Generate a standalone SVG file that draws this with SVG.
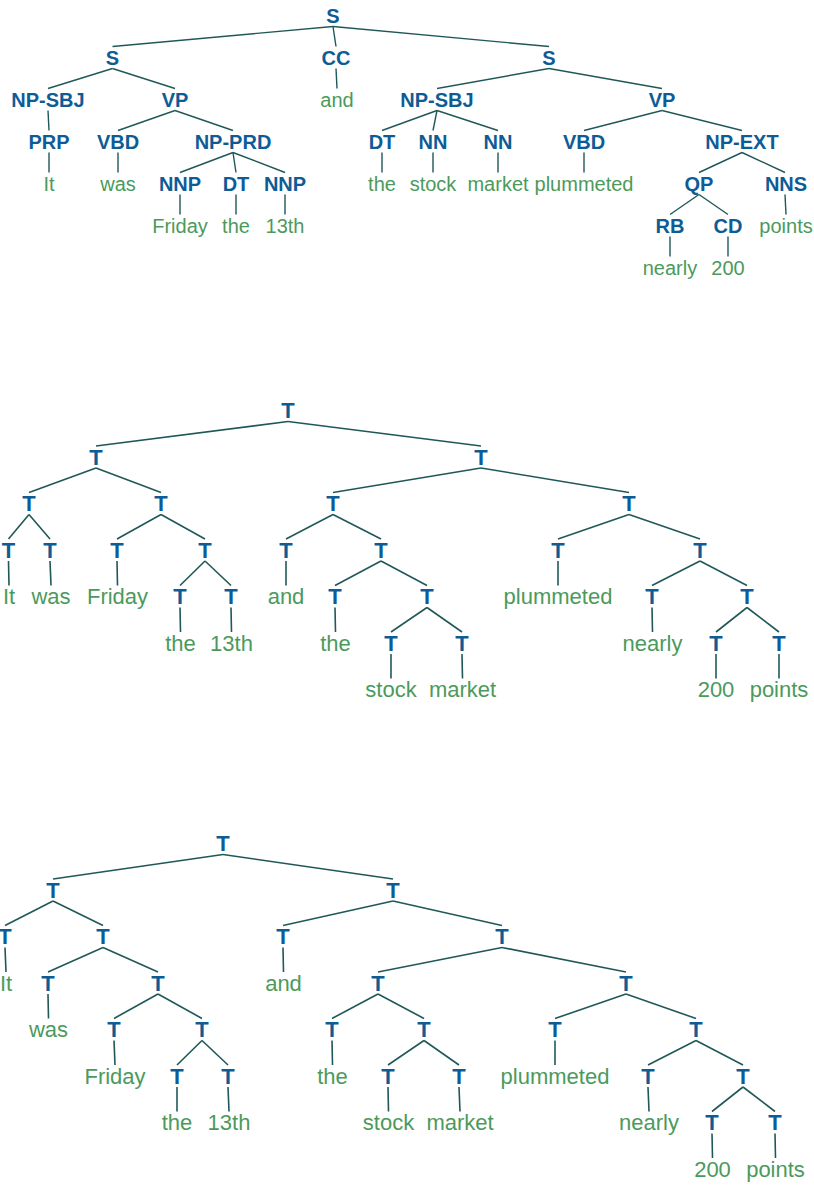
<svg xmlns="http://www.w3.org/2000/svg" width="814" height="1186" viewBox="0 0 814 1186">
<style>
.l{font-family:"Liberation Sans",Arial,sans-serif;font-size:20px;font-weight:bold;fill:#0e5c96;text-anchor:middle}
.w{font-family:"Liberation Sans",Arial,sans-serif;font-size:20px;fill:#4b9a5c;text-anchor:middle}
.big .l,.big .w{font-size:22px}
.e line{stroke:#205858;stroke-width:1.4;fill:none}
.e.big2 line{stroke-width:1.6}
</style>
<rect width="814" height="1186" fill="#ffffff"/>
<g id="tree1-edges" class="e">
<line x1="333" y1="26.5" x2="112.5" y2="46.5"/><line x1="333" y1="26.5" x2="336" y2="46.5"/><line x1="333" y1="26.5" x2="549" y2="46.5"/>
<line x1="112.5" y1="68.5" x2="48" y2="88.5"/><line x1="112.5" y1="68.5" x2="175" y2="88.5"/>
<line x1="336" y1="68.5" x2="337" y2="88.5"/>
<line x1="549" y1="68.5" x2="437" y2="88.5"/><line x1="549" y1="68.5" x2="662" y2="88.5"/>
<line x1="48" y1="110.5" x2="49" y2="130.5"/>
<line x1="175" y1="110.5" x2="118" y2="130.5"/><line x1="175" y1="110.5" x2="233" y2="130.5"/>
<line x1="437" y1="110.5" x2="382" y2="130.5"/><line x1="437" y1="110.5" x2="433" y2="130.5"/><line x1="437" y1="110.5" x2="498" y2="130.5"/>
<line x1="662" y1="110.5" x2="584" y2="130.5"/><line x1="662" y1="110.5" x2="742" y2="130.5"/>
<line x1="49" y1="152.5" x2="49" y2="172.5"/>
<line x1="118" y1="152.5" x2="118" y2="172.5"/>
<line x1="233" y1="152.5" x2="180" y2="172.5"/><line x1="233" y1="152.5" x2="236" y2="172.5"/><line x1="233" y1="152.5" x2="285" y2="172.5"/>
<line x1="382" y1="152.5" x2="382" y2="172.5"/>
<line x1="433" y1="152.5" x2="433" y2="172.5"/>
<line x1="498" y1="152.5" x2="498" y2="172.5"/>
<line x1="584" y1="152.5" x2="584" y2="172.5"/>
<line x1="742" y1="152.5" x2="699" y2="172.5"/><line x1="742" y1="152.5" x2="785" y2="172.5"/>
<line x1="180" y1="194.5" x2="180" y2="214.5"/>
<line x1="236" y1="194.5" x2="236" y2="214.5"/>
<line x1="285" y1="194.5" x2="285" y2="214.5"/>
<line x1="699" y1="194.5" x2="670" y2="214.5"/><line x1="699" y1="194.5" x2="728" y2="214.5"/>
<line x1="785" y1="194.5" x2="786" y2="214.5"/>
<line x1="670" y1="236.5" x2="670" y2="256.5"/>
<line x1="728" y1="236.5" x2="728" y2="256.5"/>
</g>
<g id="tree2-edges" class="e big2">
<line x1="288" y1="421.5" x2="96" y2="446"/><line x1="288" y1="421.5" x2="481" y2="446"/>
<line x1="96" y1="468" x2="29" y2="492.5"/><line x1="96" y1="468" x2="161" y2="492.5"/>
<line x1="481" y1="468" x2="333" y2="492.5"/><line x1="481" y1="468" x2="629" y2="492.5"/>
<line x1="29" y1="514.5" x2="8.5" y2="539"/><line x1="29" y1="514.5" x2="50" y2="539"/>
<line x1="161" y1="514.5" x2="117" y2="539"/><line x1="161" y1="514.5" x2="205" y2="539"/>
<line x1="333" y1="514.5" x2="286" y2="539"/><line x1="333" y1="514.5" x2="381" y2="539"/>
<line x1="629" y1="514.5" x2="558" y2="539"/><line x1="629" y1="514.5" x2="700" y2="539"/>
<line x1="8.5" y1="561" x2="9" y2="585.5"/>
<line x1="50" y1="561" x2="51" y2="585.5"/>
<line x1="117" y1="561" x2="117.5" y2="585.5"/>
<line x1="205" y1="561" x2="180" y2="585.5"/><line x1="205" y1="561" x2="231" y2="585.5"/>
<line x1="286" y1="561" x2="286" y2="585.5"/>
<line x1="381" y1="561" x2="335" y2="585.5"/><line x1="381" y1="561" x2="427" y2="585.5"/>
<line x1="558" y1="561" x2="558" y2="585.5"/>
<line x1="700" y1="561" x2="652" y2="585.5"/><line x1="700" y1="561" x2="747" y2="585.5"/>
<line x1="180" y1="607.5" x2="180.5" y2="632"/>
<line x1="231" y1="607.5" x2="231.5" y2="632"/>
<line x1="335" y1="607.5" x2="335.5" y2="632"/>
<line x1="427" y1="607.5" x2="391" y2="632"/><line x1="427" y1="607.5" x2="462" y2="632"/>
<line x1="652" y1="607.5" x2="652.5" y2="632"/>
<line x1="747" y1="607.5" x2="716" y2="632"/><line x1="747" y1="607.5" x2="779" y2="632"/>
<line x1="391" y1="654" x2="391" y2="678.5"/>
<line x1="462" y1="654" x2="462.5" y2="678.5"/>
<line x1="716" y1="654" x2="716" y2="678.5"/>
<line x1="779" y1="654" x2="779" y2="678.5"/>
</g>
<g id="tree3-edges" class="e big2">
<line x1="223" y1="854.5" x2="53" y2="879"/><line x1="223" y1="854.5" x2="393" y2="879"/>
<line x1="53" y1="901" x2="5" y2="925.5"/><line x1="53" y1="901" x2="103" y2="925.5"/>
<line x1="393" y1="901" x2="283" y2="925.5"/><line x1="393" y1="901" x2="502" y2="925.5"/>
<line x1="5" y1="947.5" x2="6" y2="972"/>
<line x1="103" y1="947.5" x2="48" y2="972"/><line x1="103" y1="947.5" x2="158" y2="972"/>
<line x1="283" y1="947.5" x2="283.5" y2="972"/>
<line x1="502" y1="947.5" x2="378" y2="972"/><line x1="502" y1="947.5" x2="626" y2="972"/>
<line x1="48" y1="994" x2="48.5" y2="1018.5"/>
<line x1="158" y1="994" x2="114" y2="1018.5"/><line x1="158" y1="994" x2="202" y2="1018.5"/>
<line x1="378" y1="994" x2="332" y2="1018.5"/><line x1="378" y1="994" x2="424" y2="1018.5"/>
<line x1="626" y1="994" x2="555" y2="1018.5"/><line x1="626" y1="994" x2="696" y2="1018.5"/>
<line x1="114" y1="1040.5" x2="115" y2="1065"/>
<line x1="202" y1="1040.5" x2="177" y2="1065"/><line x1="202" y1="1040.5" x2="228" y2="1065"/>
<line x1="332" y1="1040.5" x2="332.5" y2="1065"/>
<line x1="424" y1="1040.5" x2="388" y2="1065"/><line x1="424" y1="1040.5" x2="459" y2="1065"/>
<line x1="555" y1="1040.5" x2="555" y2="1065"/>
<line x1="696" y1="1040.5" x2="648" y2="1065"/><line x1="696" y1="1040.5" x2="743" y2="1065"/>
<line x1="177" y1="1087" x2="177" y2="1111.5"/>
<line x1="228" y1="1087" x2="229" y2="1111.5"/>
<line x1="388" y1="1087" x2="388.5" y2="1111.5"/>
<line x1="459" y1="1087" x2="460" y2="1111.5"/>
<line x1="648" y1="1087" x2="649" y2="1111.5"/>
<line x1="743" y1="1087" x2="712" y2="1111.5"/><line x1="743" y1="1087" x2="775" y2="1111.5"/>
<line x1="712" y1="1133.5" x2="712.5" y2="1158"/>
<line x1="775" y1="1133.5" x2="775.5" y2="1158"/>
</g>
<g id="tree1-nodes">
<g id="a-S"><text class="l" x="333" y="23">S</text></g>
<g id="a-S1"><text class="l" x="112.5" y="65">S</text></g>
<g id="a-CC"><text class="l" x="336" y="65">CC</text></g>
<g id="a-S2"><text class="l" x="549" y="65">S</text></g>
<g id="a-NPSBJ1"><text class="l" x="48" y="107">NP-SBJ</text></g>
<g id="a-VP1"><text class="l" x="175" y="107">VP</text></g>
<g id="a-and"><text class="w" x="337" y="107">and</text></g>
<g id="a-NPSBJ2"><text class="l" x="437" y="107">NP-SBJ</text></g>
<g id="a-VP2"><text class="l" x="662" y="107">VP</text></g>
<g id="a-PRP"><text class="l" x="49" y="149">PRP</text></g>
<g id="a-VBD1"><text class="l" x="118" y="149">VBD</text></g>
<g id="a-NPPRD"><text class="l" x="233" y="149">NP-PRD</text></g>
<g id="a-DT2"><text class="l" x="382" y="149">DT</text></g>
<g id="a-NN1"><text class="l" x="433" y="149">NN</text></g>
<g id="a-NN2"><text class="l" x="498" y="149">NN</text></g>
<g id="a-VBD2"><text class="l" x="584" y="149">VBD</text></g>
<g id="a-NPEXT"><text class="l" x="742" y="149">NP-EXT</text></g>
<g id="a-It"><text class="w" x="49" y="191">It</text></g>
<g id="a-was"><text class="w" x="118" y="191">was</text></g>
<g id="a-NNP1"><text class="l" x="180" y="191">NNP</text></g>
<g id="a-DT1"><text class="l" x="236" y="191">DT</text></g>
<g id="a-NNP2"><text class="l" x="285" y="191">NNP</text></g>
<g id="a-the2"><text class="w" x="382" y="191">the</text></g>
<g id="a-stock"><text class="w" x="433" y="191">stock</text></g>
<g id="a-market"><text class="w" x="498" y="191">market</text></g>
<g id="a-plummeted"><text class="w" x="584" y="191">plummeted</text></g>
<g id="a-QP"><text class="l" x="699" y="191">QP</text></g>
<g id="a-NNS"><text class="l" x="786" y="191">NNS</text></g>
<g id="a-Friday"><text class="w" x="180" y="233">Friday</text></g>
<g id="a-the1"><text class="w" x="236" y="233">the</text></g>
<g id="a-13th"><text class="w" x="285" y="233">13th</text></g>
<g id="a-RB"><text class="l" x="670" y="233">RB</text></g>
<g id="a-CD"><text class="l" x="728" y="233">CD</text></g>
<g id="a-points"><text class="w" x="786" y="233">points</text></g>
<g id="a-nearly"><text class="w" x="670" y="275">nearly</text></g>
<g id="a-200"><text class="w" x="728" y="275">200</text></g>
</g>
<g id="tree2-nodes" class="big">
<g id="b-r"><text class="l" x="288" y="418">T</text></g>
<g id="b-A"><text class="l" x="96" y="464.5">T</text></g>
<g id="b-B"><text class="l" x="481" y="464.5">T</text></g>
<g id="b-A1"><text class="l" x="29" y="511">T</text></g>
<g id="b-A2"><text class="l" x="161" y="511">T</text></g>
<g id="b-B1"><text class="l" x="333" y="511">T</text></g>
<g id="b-B2"><text class="l" x="629" y="511">T</text></g>
<g id="b-tIt"><text class="l" x="8.5" y="557.5">T</text></g>
<g id="b-twas"><text class="l" x="50" y="557.5">T</text></g>
<g id="b-tFri"><text class="l" x="117" y="557.5">T</text></g>
<g id="b-A22"><text class="l" x="205" y="557.5">T</text></g>
<g id="b-tand"><text class="l" x="286" y="557.5">T</text></g>
<g id="b-B12"><text class="l" x="381" y="557.5">T</text></g>
<g id="b-tplum"><text class="l" x="558" y="557.5">T</text></g>
<g id="b-B22"><text class="l" x="700" y="557.5">T</text></g>
<g id="b-It"><text class="w" x="9" y="604">It</text></g>
<g id="b-was"><text class="w" x="51" y="604">was</text></g>
<g id="b-Friday"><text class="w" x="117.5" y="604">Friday</text></g>
<g id="b-tthe1"><text class="l" x="180" y="604">T</text></g>
<g id="b-t13"><text class="l" x="231" y="604">T</text></g>
<g id="b-and"><text class="w" x="286" y="604">and</text></g>
<g id="b-tthe2"><text class="l" x="335" y="604">T</text></g>
<g id="b-B122"><text class="l" x="427" y="604">T</text></g>
<g id="b-plummeted"><text class="w" x="558" y="604">plummeted</text></g>
<g id="b-tnear"><text class="l" x="652" y="604">T</text></g>
<g id="b-B222"><text class="l" x="747" y="604">T</text></g>
<g id="b-the1"><text class="w" x="180.5" y="650.5">the</text></g>
<g id="b-13th"><text class="w" x="231.5" y="650.5">13th</text></g>
<g id="b-the2"><text class="w" x="335.5" y="650.5">the</text></g>
<g id="b-tstock"><text class="l" x="391" y="650.5">T</text></g>
<g id="b-tmarket"><text class="l" x="462" y="650.5">T</text></g>
<g id="b-nearly"><text class="w" x="652.5" y="650.5">nearly</text></g>
<g id="b-t200"><text class="l" x="716" y="650.5">T</text></g>
<g id="b-tpoints"><text class="l" x="779" y="650.5">T</text></g>
<g id="b-stock"><text class="w" x="391" y="697">stock</text></g>
<g id="b-market"><text class="w" x="462.5" y="697">market</text></g>
<g id="b-200"><text class="w" x="716" y="697">200</text></g>
<g id="b-points"><text class="w" x="779" y="697">points</text></g>
</g>
<g id="tree3-nodes" class="big">
<g id="c-r"><text class="l" x="223" y="851">T</text></g>
<g id="c-L"><text class="l" x="53" y="897.5">T</text></g>
<g id="c-R"><text class="l" x="393" y="897.5">T</text></g>
<g id="c-tIt"><text class="l" x="5" y="944">T</text></g>
<g id="c-L2"><text class="l" x="103" y="944">T</text></g>
<g id="c-tand"><text class="l" x="283" y="944">T</text></g>
<g id="c-R2"><text class="l" x="502" y="944">T</text></g>
<g id="c-It"><text class="w" x="6" y="990.5">It</text></g>
<g id="c-twas"><text class="l" x="48" y="990.5">T</text></g>
<g id="c-L22"><text class="l" x="158" y="990.5">T</text></g>
<g id="c-and"><text class="w" x="283.5" y="990.5">and</text></g>
<g id="c-R21"><text class="l" x="378" y="990.5">T</text></g>
<g id="c-R22"><text class="l" x="626" y="990.5">T</text></g>
<g id="c-was"><text class="w" x="48.5" y="1037">was</text></g>
<g id="c-tFri"><text class="l" x="114" y="1037">T</text></g>
<g id="c-L222"><text class="l" x="202" y="1037">T</text></g>
<g id="c-tthe2"><text class="l" x="332" y="1037">T</text></g>
<g id="c-R212"><text class="l" x="424" y="1037">T</text></g>
<g id="c-tplum"><text class="l" x="555" y="1037">T</text></g>
<g id="c-R222"><text class="l" x="696" y="1037">T</text></g>
<g id="c-Friday"><text class="w" x="115" y="1083.5">Friday</text></g>
<g id="c-tthe1"><text class="l" x="177" y="1083.5">T</text></g>
<g id="c-t13"><text class="l" x="228" y="1083.5">T</text></g>
<g id="c-the2"><text class="w" x="332.5" y="1083.5">the</text></g>
<g id="c-tstock"><text class="l" x="388" y="1083.5">T</text></g>
<g id="c-tmarket"><text class="l" x="459" y="1083.5">T</text></g>
<g id="c-plummeted"><text class="w" x="555" y="1083.5">plummeted</text></g>
<g id="c-tnear"><text class="l" x="648" y="1083.5">T</text></g>
<g id="c-R2222"><text class="l" x="743" y="1083.5">T</text></g>
<g id="c-the1"><text class="w" x="177" y="1130">the</text></g>
<g id="c-13th"><text class="w" x="229" y="1130">13th</text></g>
<g id="c-stock"><text class="w" x="388.5" y="1130">stock</text></g>
<g id="c-market"><text class="w" x="460" y="1130">market</text></g>
<g id="c-nearly"><text class="w" x="649" y="1130">nearly</text></g>
<g id="c-t200"><text class="l" x="712" y="1130">T</text></g>
<g id="c-tpoints"><text class="l" x="775" y="1130">T</text></g>
<g id="c-200"><text class="w" x="712.5" y="1176.5">200</text></g>
<g id="c-points"><text class="w" x="775.5" y="1176.5">points</text></g>
</g>
</svg>
